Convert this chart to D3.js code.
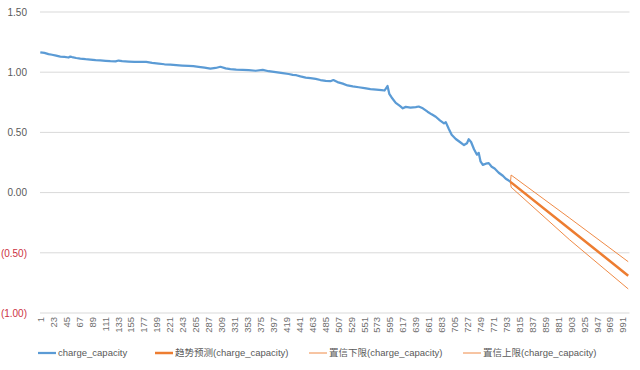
<!DOCTYPE html>
<html><head><meta charset="utf-8">
<script src="https://cdn.jsdelivr.net/npm/d3@7"></script>
<style>
html,body{margin:0;padding:0;background:#fff;}
text{font-family:"Liberation Sans","Noto Sans CJK SC",sans-serif;}
</style></head>
<body><svg id="c" width="640" height="370"></svg>
<script>
// ---- data ----
const categoryCount = 1000;
const xTickLabels = d3.range(1, 1001, 22);
const yTickValues = [-1, -0.5, 0, 0.5, 1, 1.5];
const actualCats = [1,8,15,21,28,35,42,49,52,55,62,69,78,86,95,103,112,120,129,134,140,151,161,171,181,191,202,212,222,232,242,253,261,270,280,290,299,307,316,324,334,345,355,367,379,389,401,413,423,430,436,443,452,460,469,477,486,494,499,506,515,523,532,542,552,562,572,581,586,589,591,594,598,605,612,617,622,630,639,644,651,659,666,673,680,687,690,695,700,707,714,721,726,729,733,738,743,746,749,753,758,763,768,773,780,787,792,797,800];
const actualVals = [1.165,1.160,1.150,1.145,1.138,1.130,1.127,1.122,1.130,1.126,1.118,1.113,1.108,1.105,1.100,1.098,1.095,1.092,1.090,1.097,1.092,1.088,1.085,1.086,1.085,1.078,1.072,1.066,1.062,1.058,1.055,1.052,1.050,1.045,1.038,1.030,1.035,1.045,1.032,1.025,1.022,1.020,1.018,1.012,1.020,1.008,1.000,0.992,0.985,0.978,0.975,0.965,0.955,0.950,0.945,0.935,0.928,0.925,0.935,0.918,0.905,0.890,0.882,0.875,0.868,0.860,0.856,0.852,0.848,0.870,0.885,0.820,0.790,0.745,0.720,0.700,0.712,0.705,0.710,0.715,0.700,0.672,0.650,0.630,0.600,0.575,0.585,0.530,0.480,0.445,0.420,0.395,0.410,0.443,0.420,0.360,0.315,0.330,0.260,0.230,0.240,0.245,0.215,0.200,0.165,0.140,0.115,0.100,0.090];
const forecastCats = [800, 801, 900, 1000];
const trendVals = [0.090, 0.085, -0.300, -0.690];
const lowerVals = [0.090, 0.045, -0.390, -0.800];
const upperVals = [0.090, 0.146, -0.210, -0.574];
const seriesNames = ["charge_capacity","趋势预测(charge_capacity)","置信下限(charge_capacity)","置信上限(charge_capacity)"];

// ---- chart ----
const svg = d3.select("#c");
const L = 40, R = 628.5, T = 12, B = 313;
const x = d3.scaleBand().domain(d3.range(1, categoryCount + 1)).range([L, R]);
const cx = c => x(c) + x.bandwidth() / 2;
const y = d3.scaleLinear().domain([-1, 1.5]).range([B, T]);

// gridlines
svg.append("g").selectAll("line").data(yTickValues).join("line")
  .attr("x1", L).attr("x2", R + 1)
  .attr("y1", d => y(d)).attr("y2", d => y(d))
  .attr("stroke", "#d9d9d9").attr("stroke-width", 1);

// y axis
const fmt = d => d < 0 ? "(" + d3.format(".2f")(-d) + ")" : d3.format(".2f")(d);
const ya = svg.append("g").attr("transform", `translate(${L - 10},0)`)
  .call(d3.axisLeft(y).tickValues(yTickValues).tickFormat(fmt).tickSize(0));
ya.select(".domain").remove();
ya.selectAll("text").attr("font-size", 10)
  .attr("fill", d => d < 0 ? "#cc3344" : "#595959").attr("dx", 0);

// x axis
const xa = svg.append("g").attr("transform", `translate(0,${B})`)
  .call(d3.axisBottom(x).tickValues(xTickLabels).tickSize(0));
xa.select(".domain").remove();
xa.selectAll("text").attr("font-size", 9.5).attr("fill", "#6f6f6f")
  .attr("transform", "rotate(-90)").attr("text-anchor", "end")
  .attr("x", -4).attr("y", 0).attr("dy", "0.35em");

// lines
const line = d3.line().x(d => cx(d[0])).y(d => y(d[1]));
const actual = d3.zip(actualCats, actualVals);
svg.append("path").attr("d", line(actual)).attr("fill", "none")
  .attr("stroke", "#5b9bd5").attr("stroke-width", 2.25).attr("stroke-linejoin", "round");
svg.append("path").attr("d", line(d3.zip(forecastCats, lowerVals))).attr("fill", "none")
  .attr("stroke", "#ed7d31").attr("stroke-width", 0.9);
svg.append("path").attr("d", line(d3.zip(forecastCats, upperVals))).attr("fill", "none")
  .attr("stroke", "#ed7d31").attr("stroke-width", 0.9);
svg.append("path").attr("d", line(d3.zip(forecastCats, trendVals))).attr("fill", "none")
  .attr("stroke", "#ed7d31").attr("stroke-width", 2.5);

// legend
const legendX = [38, 155, 309, 463];
const legendW = [2.25, 2.5, 0.9, 0.9];
const legendC = ["#5b9bd5", "#ed7d31", "#ed7d31", "#ed7d31"];
const lg = svg.append("g").attr("transform", "translate(0,353)");
seriesNames.forEach((n, i) => {
  lg.append("line").attr("x1", legendX[i]).attr("x2", legendX[i] + 18)
    .attr("y1", 0).attr("y2", 0).attr("stroke", legendC[i]).attr("stroke-width", legendW[i]);
  lg.append("text").attr("x", legendX[i] + 20).attr("y", 0).attr("dy", "0.35em")
    .attr("font-size", 9.5).attr("fill", "#595959").text(n);
});
</script></body></html>
